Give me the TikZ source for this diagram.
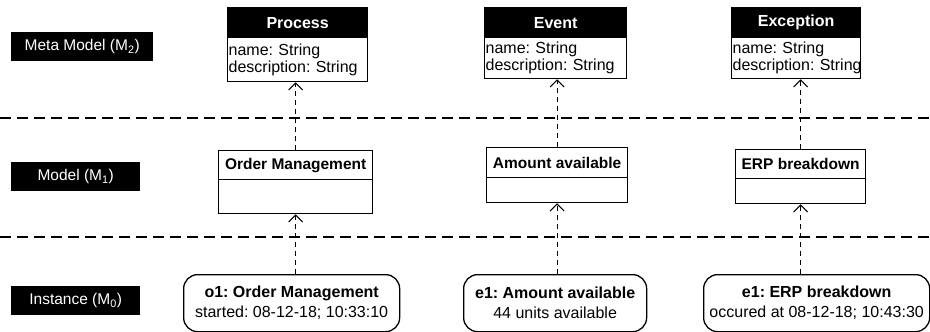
\documentclass[tikz,border=0pt]{standalone}
\usepackage{fontspec}
\setmainfont{Liberation Sans}
\usetikzlibrary{arrows.meta,calc}
\frenchspacing
\tikzset{
  lvl/.style={fill=black,text=white,inner sep=0pt,anchor=north west,font=\fontsize{15.5}{17}\selectfont},
  mhdr/.style={draw=black,line width=1.3pt,fill=black,text=white,inner sep=0pt,anchor=north west,font=\fontsize{16}{17}\selectfont\bfseries},
  chdr/.style={draw=black,line width=1.3pt,fill=white,text=black,inner sep=0pt,anchor=north west,font=\fontsize{15.5}{17}\selectfont\bfseries},
  cbody/.style={draw=black,line width=1.3pt,fill=white,inner ysep=0pt,inner xsep=1pt,anchor=north west,align=left,font=\fontsize{16}{17}\selectfont},
  inst/.style={draw=black,line width=1.3pt,fill=white,rounded corners=14pt,inner sep=0pt,anchor=north west,align=center,font=\fontsize{16}{20}\selectfont},
  sepline/.style={dash pattern=on 11pt off 6pt,line width=1.3pt},
  conn/.style={dash pattern=on 5pt off 4pt,line width=1pt,-{Straight Barb[length=7pt,width=14pt,line width=1pt]}}
}
\newcommand{\attrs}{\mbox{name: String}\\\mbox{description: String}}
\begin{document}
\begin{tikzpicture}[x=1pt,y=-1pt]
\useasboundingbox (0,0) rectangle (930,332);
% level labels
\node[lvl,minimum width=142pt,minimum height=29pt] (l2) at (11,32) {Meta Model (M\textsubscript{2})};
\node[lvl,minimum width=129pt,minimum height=29pt] (l1) at (11,162) {Model (M\textsubscript{1})};
\node[lvl,minimum width=129pt,minimum height=29pt] (l0) at (11,286) {Instance (M\textsubscript{0})};
% separators
\draw[sepline] (0,118) -- (930,118);
\draw[sepline] (0,237) -- (930,237);
% meta model classes
\node[mhdr,minimum width=140pt,minimum height=30pt] (p1t) at (227,7) {Process};
\node[cbody,text width=138pt,minimum height=44pt] (p1) at (227,37) {\attrs};
\node[mhdr,minimum width=142pt,minimum height=30pt] (p2t) at (484,7) {Event};
\node[cbody,text width=140pt,minimum height=41pt] (p2) at (484,37) {\attrs};
\node[mhdr,minimum width=129pt,minimum height=30pt] (p3t) at (731,7) {Exception};
\node[cbody,text width=127pt,minimum height=41pt] (p3) at (731,37) {\attrs};
% model classes
\node[chdr,minimum width=154pt,minimum height=29pt] (m1t) at (218,150) {Order Management};
\node[cbody,text width=152pt,minimum height=34pt] (m1) at (218,179) {};
\node[chdr,minimum width=141pt,minimum height=30pt] (m2t) at (486,147) {Amount available};
\node[cbody,text width=139pt,minimum height=25pt] (m2) at (486,177) {};
\node[chdr,minimum width=130pt,minimum height=29pt] (m3t) at (735,149) {ERP breakdown};
\node[cbody,text width=128pt,minimum height=25pt] (m3) at (735,178) {};
% instances
\node[inst,minimum width=216pt,minimum height=57pt] (i1) at (183,274) {\textbf{o1: Order Management}\\started: 08-12-18; 10:33:10};
\node[inst,minimum width=183pt,minimum height=57pt] (i2) at (463,274) {\textbf{e1: Amount available}\\44 units available};
\node[inst,minimum width=226pt,minimum height=57pt] (i3) at (703,274) {\textbf{e1: ERP breakdown}\\occured at 08-12-18; 10:43:30};
% connectors
\draw[conn] (i1.north -| m1.south) -- (m1.south);
\draw[conn] (m1t.north) -- (m1t.north |- p1.south);
\draw[conn] (i2.north -| m2.south) -- (m2.south);
\draw[conn] (m2t.north) -- (m2t.north |- p2.south);
\draw[conn] (i3.north -| m3.south) -- (m3.south);
\draw[conn] (m3t.north) -- (m3t.north |- p3.south);
\end{tikzpicture}
\end{document}
